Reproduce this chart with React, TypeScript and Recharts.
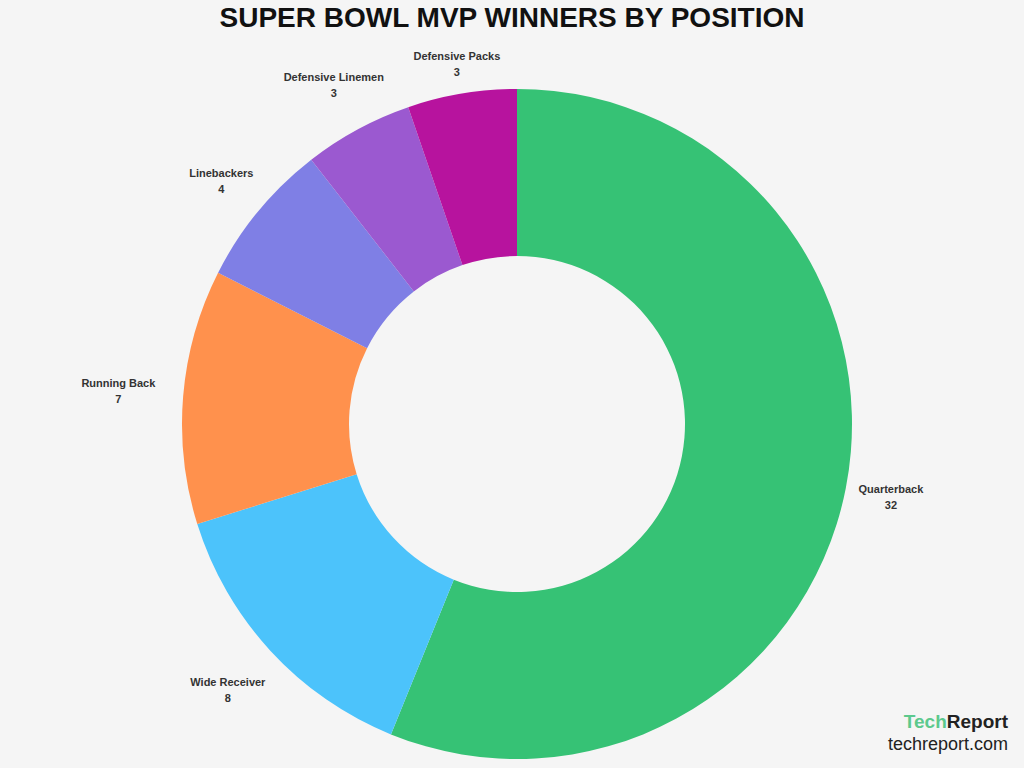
import { PieChart, Pie, Cell } from 'recharts';

const positions = ['Quarterback', 'Wide Receiver', 'Running Back', 'Linebackers', 'Defensive Linemen', 'Defensive Packs'];
const winners = [32, 8, 7, 4, 3, 3];
const colors = ['#36C275', '#4CC3FB', '#FF914D', '#7F7FE5', '#9B59D0', '#B7139E'];

const data = positions.map((name, i) => ({ name, value: winners[i] }));

const RADIAN = Math.PI / 180;

// how far each label sits outside the ring (reference labels aren't evenly spaced)
const labelGap: Record<string, number> = {
    Quarterback: 46,
    'Wide Receiver': 58,
    'Running Back': 65,
    Linebackers: 48,
    'Defensive Linemen': 50,
    'Defensive Packs': 30,
};

const renderLabel = ({ cx, cy, midAngle, outerRadius, name, value }: any) => {
    const r = outerRadius + (labelGap[name] ?? 50);
    const x = cx + r * Math.cos(-midAngle * RADIAN);
    const y = cy + r * Math.sin(-midAngle * RADIAN);
    return (
        <g>
            <text x={x} y={y - 4} textAnchor="middle" fill="#333" fontSize={11} fontWeight="bold">
                {name}
            </text>
            <text x={x} y={y + 12} textAnchor="middle" fill="#333" fontSize={11} fontWeight="bold">
                {value}
            </text>
        </g>
    );
};

const App = () => {
    return (
        <div
            style={{
                position: 'absolute',
                left: 0,
                top: 0,
                width: 1024,
                height: 768,
                background: '#F5F5F5',
                fontFamily: '"Liberation Sans", Arial, sans-serif',
            }}
        >
            <div
                style={{
                    position: 'absolute',
                    top: 2,
                    width: '100%',
                    textAlign: 'center',
                    fontSize: 28,
                    fontWeight: 'bold',
                    color: '#111',
                }}
            >
                SUPER BOWL MVP WINNERS BY POSITION
            </div>
            <PieChart
                width={1024}
                height={768}
                margin={{ top: 0, right: 0, bottom: 0, left: 0 }}
                style={{ position: 'absolute', left: 0, top: 0 }}
            >
                <Pie
                    data={data}
                    dataKey="value"
                    nameKey="name"
                    cx={517}
                    cy={424}
                    innerRadius={168}
                    outerRadius={335}
                    startAngle={90}
                    endAngle={-270}
                    stroke="none"
                    label={renderLabel}
                    labelLine={false}
                    isAnimationActive={false}
                >
                    {data.map((d, i) => (
                        <Cell key={d.name} fill={colors[i]} />
                    ))}
                </Pie>
            </PieChart>
            <div style={{ position: 'absolute', right: 16, top: 711, textAlign: 'right', lineHeight: '22px' }}>
                <div style={{ fontSize: 19, fontWeight: 'bold' }}>
                    <span style={{ color: '#5CC98D' }}>Tech</span>
                    <span style={{ color: '#222' }}>Report</span>
                </div>
                <div style={{ fontSize: 18, color: '#222' }}>techreport.com</div>
            </div>
        </div>
    );
};

export default App;
